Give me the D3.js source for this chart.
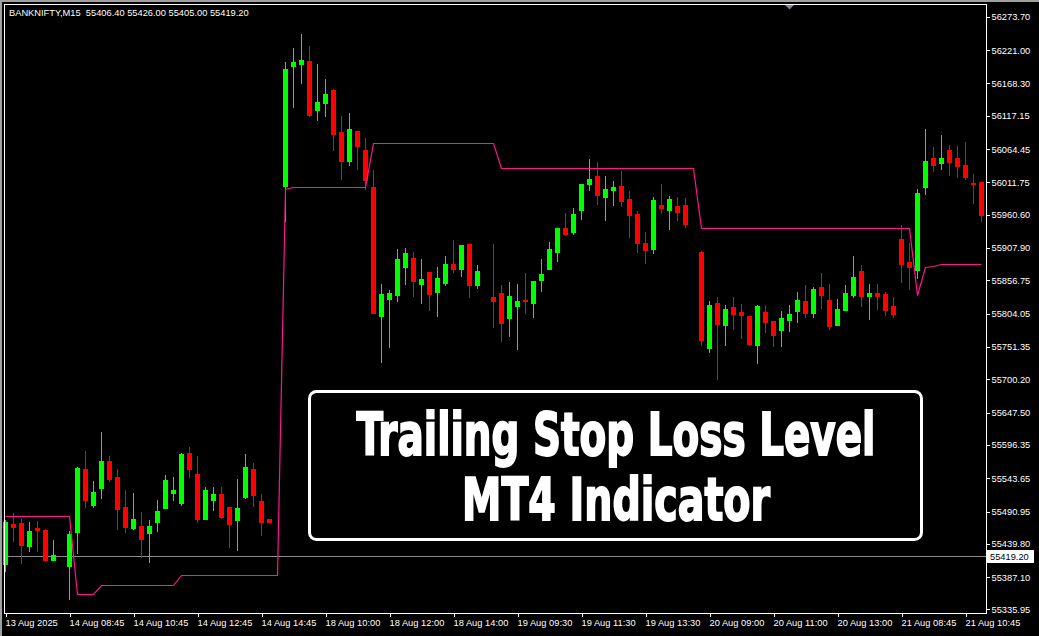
<!DOCTYPE html>
<html><head><meta charset="utf-8">
<script src="https://cdn.jsdelivr.net/npm/d3@7"></script>
<style>html,body{margin:0;padding:0;background:#000;overflow:hidden}</style>
</head><body>
<svg id="c" width="1039" height="636"></svg>
<script>
// ---------------- DATA ----------------
const symbolTitle = "BANKNIFTY,M15  55406.40 55426.00 55405.00 55419.20";

const openP = [
55407.1,55470.4,55472.0,55435.6,55464.6,55460.9,55414.0,null,
55404.7,55458.3,55557.5,55501.0,55527.9,55570.1,55544.8,55497.3,
55464.1,55467.3,55456.7,55474.1,55495.7,55520.0,55504.1,55582.8,
55549.5,55478.8,55508.9,55517.9,55497.3,55477.2,55513.2,55557.5,
55506.8,55478.3,null,56005.7,56195.5,56198.7,56203.0,56125.9,
56137.0,56157.1,56090.7,56045.2,56092.2,56062.2,56003.6,55800.0,
55826.9,55833.2,55877.5,55891.3,55850.6,55869.1,55837.9,55852.2,
55881.8,55874.4,55913.4,55848.6,null,55829.9,55835.9,55796.4,
55815.3,55824.8,55820.1,55856.5,55873.9,55900.8,55938.8,55932.5,
55967.2,56008.4,56021.0,55987.8,55998.9,56005.2,55984.6,55960.9,
55915.0,55905.5,55975.1,55967.2,55973.6,55975.1,null,55900.8,
55748.9,55820.1,55785.3,55813.8,55805.9,55799.5,55753.6,55805.9,
55791.6,55777.4,55793.2,55807.4,55823.3,55804.3,55845.2,55824.8,
55785.3,55809.0,55832.1,55870.7,55831.2,55835.9,55834.3,55815.3,
55921.4,55884.9,55872.3,56003.6,56049.5,56041.6,56062.2,56049.5,
56038.4,56010.0,56011.5];

const highP = [
55476.8,55487.4,55478.3,55473.6,55475.2,55462.0,55445.1,null,
55459.4,55560.0,55585.9,55538.5,55616.0,55578.0,55557.5,55524.2,
55519.5,55489.4,55476.8,55508.4,55548.0,55544.8,55583.2,55592.3,
55578.0,55529.0,55529.0,55529.0,55498.0,55541.6,55581.2,55566.9,
55517.9,55478.3,null,56201.4,56223.6,56245.7,56226.7,56198.2,
56174.5,56158.0,56116.0,56120.7,56092.2,56081.2,56030.5,55850.2,
55840.7,55905.5,55907.1,55900.8,55889.7,55869.5,55877.0,55894.5,
55919.8,55912.5,55914.0,55880.2,null,55913.4,55848.6,55853.3,
55850.2,55867.6,55855.5,55889.7,55916.6,55939.3,55962.5,55970.4,
56009.0,56047.9,56043.2,56021.0,56013.1,56029.0,55997.3,55965.7,
55932.5,55987.8,56008.4,55989.4,55987.8,55986.2,null,55902.4,
55823.3,55829.4,55817.0,55829.4,55818.5,55800.0,55817.0,55817.0,
55792.0,55807.4,55817.0,55837.5,55848.6,55845.2,55867.6,55850.2,
55826.4,55848.6,55894.5,55880.2,55850.2,55850.2,55837.5,55829.4,
55943.5,55915.0,56000.5,56095.4,56066.9,56085.7,56070.1,56068.5,
56074.8,56024.2,56012.0];

const lowP = [
55396.5,55444.0,55409.2,55428.2,55428.2,55412.0,55413.0,null,
55351.8,55424.1,55497.8,55497.8,55512.0,55538.5,55463.0,55458.3,
55462.5,55418.7,55410.8,55459.8,55495.0,55508.4,55501.0,55545.3,
55474.1,55478.0,55493.1,55480.4,55434.5,55429.8,55512.0,55499.4,
55453.5,55474.1,null,55950.3,56130.7,56168.7,56116.4,56110.1,
56116.4,56062.7,56016.8,56038.9,56032.6,56001.0,55804.0,55726.7,
55751.0,55823.7,55850.6,55831.6,55820.6,55809.5,55800.0,55848.6,
55869.6,55863.3,55829.9,55844.0,null,55782.6,55760.0,55767.9,
55747.3,55804.3,55798.0,55839.1,55873.5,55886.5,55927.7,55929.3,
55953.0,55998.9,55976.7,55951.4,55975.1,55973.6,55924.5,55900.8,
55883.4,55899.2,55962.5,55937.2,55951.4,55940.4,null,55753.6,
55742.6,55699.8,55753.6,55778.9,55764.7,55753.6,55725.1,55774.2,
55752.1,55752.1,55775.8,55790.0,55798.0,55798.0,55812.1,55778.9,
55784.8,55808.5,55829.4,55815.3,55794.8,55810.6,55801.1,55798.0,
55853.3,55842.1,55859.6,55992.5,56029.0,56032.1,56022.6,56019.5,
56016.3,55978.3,55949.8];

const closeP = [
55473.1,55466.2,55437.2,55459.4,55460.9,55414.0,55421.4,null,
55454.6,55559.0,55508.9,55521.1,55570.1,55541.6,55494.6,55466.2,
55478.3,55447.2,55467.3,55491.0,55540.0,55524.2,55581.2,55557.9,
55478.8,55524.2,55517.9,55482.0,55470.9,55495.7,55560.6,55516.8,
55474.1,55474.1,null,56190.3,56201.4,56204.6,56117.5,56138.1,
56150.8,56088.0,56045.2,56095.4,56069.0,56015.2,55804.7,55834.3,
55835.9,55889.7,55899.2,55855.4,55858.0,55834.8,55859.6,55881.8,
55874.4,55911.9,55848.6,55870.7,null,55823.7,55788.5,55831.2,
55823.3,55823.3,55854.9,55866.0,55905.5,55938.8,55929.3,55960.9,
56008.4,56016.3,55991.0,56000.5,56003.6,55981.5,55959.3,55915.0,
55903.9,55983.1,55970.4,55984.6,55964.1,55945.1,null,55761.6,
55817.0,55786.9,55810.6,55802.7,55801.1,55755.2,55815.3,55790.0,
55769.5,55796.4,55802.7,55824.8,55804.3,55842.1,55832.1,55783.7,
55810.6,55835.9,55861.2,55831.2,55835.9,55831.2,55809.0,55802.7,
55881.8,55877.0,55994.1,56044.8,56038.4,56049.5,56043.2,56036.9,
56019.5,56008.4,55959.3];

const trailStop = [
55483.5,55483.5,55483.5,55483.5,55483.5,55483.5,55483.5,55483.5,55483.5,55359.2,
55359.2,55359.2,55373.4,55373.4,55373.4,55373.4,55373.4,55373.4,55373.4,55373.4,
55373.4,55373.4,55389.3,55389.3,55389.3,55389.3,55389.3,55389.3,55389.3,55389.3,
55389.3,55389.3,55389.3,55389.3,55389.3,56000.5,56003.1,56003.1,56003.1,56003.1,
56003.1,56003.1,56003.1,56003.1,56003.1,56003.1,56072.8,56072.8,56072.8,56072.8,
56072.8,56072.8,56072.8,56072.8,56072.8,56072.8,56072.8,56072.8,56072.8,56072.8,
56072.8,56072.8,56033.2,56033.2,56033.2,56033.2,56033.2,56033.2,56033.2,56033.2,
56033.2,56033.2,56033.2,56033.2,56033.2,56033.2,56033.2,56033.2,56033.2,56033.2,
56033.2,56033.2,56033.2,56033.2,56033.2,56033.2,56033.2,55938.3,55938.3,55938.3,
55938.3,55938.3,55938.3,55938.3,55938.3,55938.3,55938.3,55938.3,55938.3,55938.3,
55938.3,55938.3,55938.3,55938.3,55938.3,55938.3,55938.3,55938.3,55938.3,55938.3,
55938.3,55938.3,55938.3,55938.3,55832.7,55877.5,55878.6,55881.3,55881.3,55881.3,
55881.3,55881.3,55881.3];

const bidPrice = 55419.20;

const yTickValues = [56273.70,56221.00,56168.30,56117.15,56064.45,56011.75,55960.60,
  55907.90,55856.75,55804.05,55751.35,55700.20,55647.50,55596.35,55543.65,55490.95,
  55439.80,55387.10,55335.95];

const xTickBars = [0,8,16,24,32,40,48,56,64,72,80,88,96,104,112,120];
const xTickLabels = ["13 Aug 2025","14 Aug 08:45","14 Aug 10:45","14 Aug 12:45","14 Aug 14:45",
  "18 Aug 10:00","18 Aug 12:00","18 Aug 14:00","19 Aug 09:30","19 Aug 11:30","19 Aug 13:30",
  "20 Aug 09:00","20 Aug 11:00","20 Aug 13:00","21 Aug 08:45","21 Aug 10:45"];

const overlayLines = ["Trailing Stop Loss Level","MT4 Indicator"];

// ---------------- DRAW ----------------
const W = 1039, H = 636;
const L = 4, T = 4, R = 986, B = 613;
const smallFont = "'Liberation Sans', Arial, sans-serif";
const svg = d3.select("#c");

svg.append("rect").attr("width", W).attr("height", H).attr("fill", "#000");
// window edge
svg.append("rect").attr("x",0).attr("y",0).attr("width",W).attr("height",2).attr("fill","#a0a0a0");
svg.append("rect").attr("x",0).attr("y",0).attr("width",2).attr("height",H).attr("fill","#a0a0a0");

const x = d3.scaleLinear().domain([0, openP.length - 1]).range([5, 981]);
const y = d3.scaleLinear().domain([55329.6, 56299.5]).range([613, 0]);

// bid line
const by = Math.round(y(bidPrice)) + 0.5;
svg.append("line").attr("x1", L + 1).attr("x2", R).attr("y1", by).attr("y2", by)
  .attr("stroke", "#8c8c8c").attr("stroke-width", 1).attr("shape-rendering","crispEdges");

// candles
const bars = openP.map((o, i) => ({i, o, h: highP[i], l: lowP[i], c: closeP[i]})).filter(d => d.o != null);
const col = d => d.c >= d.o ? "#00ff00" : "#ff0000";
const cg = svg.append("g").attr("shape-rendering", "crispEdges");
cg.selectAll("rect.wick").data(bars).join("rect").attr("class","wick")
  .attr("x", d => Math.round(x(d.i)))
  .attr("width", 1)
  .attr("y", d => Math.round(y(d.h)))
  .attr("height", d => Math.max(1, Math.round(y(d.l)) - Math.round(y(d.h)) + 1))
  .attr("fill", col);
cg.selectAll("rect.body").data(bars).join("rect").attr("class","body")
  .attr("x", d => Math.round(x(d.i)) - 2)
  .attr("width", 5)
  .attr("y", d => Math.round(y(Math.max(d.o, d.c))))
  .attr("height", d => Math.max(1, Math.round(y(Math.min(d.o, d.c))) - Math.round(y(Math.max(d.o, d.c))) + 1))
  .attr("fill", col);

// trailing stop line
const line = d3.line().x((d, i) => Math.round(x(i)) + 0.5).y(d => Math.round(y(d)) + 0.5);
svg.append("path").datum(trailStop).attr("d", line)
  .attr("fill", "none").attr("stroke", "#ff1493").attr("stroke-width", 1.2);

// frame
svg.append("path").attr("d", `M${R+0.5},${T+0.5}H${L+0.5}V${B+0.5}H${R+0.5}Z`)
  .attr("fill","none").attr("stroke","#fff").attr("stroke-width",1).attr("shape-rendering","crispEdges");

// shift marker
svg.append("path").attr("d","M785,5L794,5L789.5,9.5Z").attr("fill","#778899");

// right axis
const ay = d3.axisRight(y).tickValues(yTickValues).tickSize(3).tickPadding(2).tickFormat(d3.format(".2f"));
const gy = svg.append("g").attr("transform", `translate(${R + 0.5},0.5)`).call(ay);
gy.select(".domain").remove();
gy.selectAll(".tick line").attr("stroke", "#fff").attr("shape-rendering","crispEdges");
gy.selectAll(".tick text").attr("fill", "#fff").style("font-family", smallFont).style("font-size", "9.3px");

// bottom axis
const ax = d3.axisBottom(x).tickValues(xTickBars).tickSize(4).tickPadding(2)
  .tickFormat((d, i) => xTickLabels[i]);
const gx = svg.append("g").attr("transform", `translate(0.5,${B})`).call(ax);
gx.select(".domain").remove();
gx.selectAll(".tick line").attr("stroke", "#fff").attr("shape-rendering","crispEdges");
gx.selectAll(".tick text").attr("fill", "#fff").attr("text-anchor", "start").attr("x", -0.5)
  .style("font-family", smallFont).style("font-size", "9.3px");

// bid label
svg.append("rect").attr("x", R + 1).attr("y", Math.round(y(bidPrice)) - 6).attr("width", 47).attr("height", 13).attr("fill", "#fff");
svg.append("text").attr("x", R + 4).attr("y", y(bidPrice)).attr("dy", "0.35em")
  .attr("fill", "#000").style("font-family", smallFont).style("font-size", "9.3px")
  .text(d3.format(".2f")(bidPrice));

// title
svg.append("text").attr("x", 9).attr("y", 16).attr("fill", "#fff")
  .style("font-family", smallFont).style("font-size", "9.3px").attr("xml:space","preserve")
  .text(symbolTitle);

// overlay caption box
svg.append("rect").attr("x", 309.5).attr("y", 391.5).attr("width", 612).attr("height", 148).attr("rx", 7)
  .attr("fill", "#000").attr("stroke", "#fff").attr("stroke-width", 3);
const capLen = [519, 308];
const capY = [455, 520];
svg.selectAll("text.cap").data(overlayLines).join("text").attr("class","cap")
  .attr("x", 0).attr("y", 0).attr("text-anchor", "middle")
  .attr("fill", "#fff").attr("stroke", "#fff").attr("stroke-width", 1.6)
  .style("font-family", "'Liberation Sans Narrow','DejaVu Sans Condensed','Arial Narrow',sans-serif")
  .style("font-weight", "bold").style("font-size", "58px")
  .text(d => d)
  .each(function(d, i) {
    const w = this.getComputedTextLength() || capLen[i];
    const sx = capLen[i] / w;
    d3.select(this).attr("transform", `translate(616,${capY[i]}) scale(${sx},1)`)
      .attr("stroke-width", 1.6 / Math.sqrt(sx));
  });
</script>
</body></html>
